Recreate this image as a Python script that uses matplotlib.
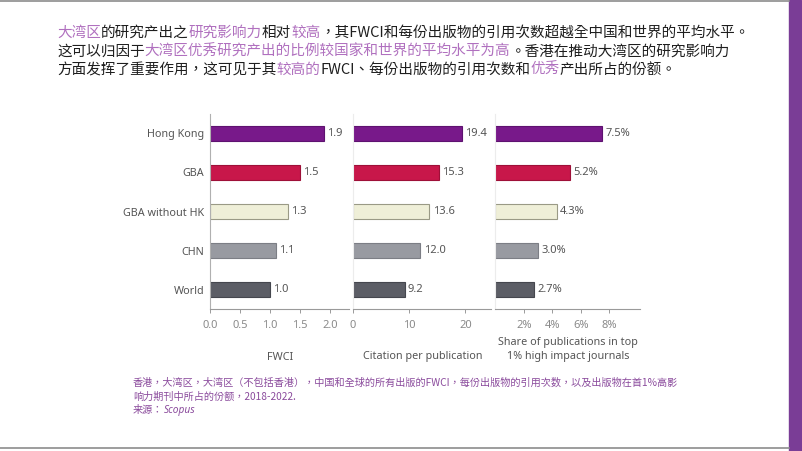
import matplotlib
matplotlib.use("Agg")
import matplotlib.pyplot as plt
from matplotlib.lines import Line2D
from matplotlib.patches import Rectangle

# ---------------- data ----------------
categories = ["Hong Kong", "GBA", "GBA without HK", "CHN", "World"]
fwci = [1.9, 1.5, 1.3, 1.1, 1.0]
citations = [19.4, 15.3, 13.6, 12.0, 9.2]
share_top1 = [7.5, 5.2, 4.3, 3.0, 2.7]

fwci_ticks = [0.0, 0.5, 1.0, 1.5, 2.0]
fwci_ticklabels = ["0.0", "0.5", "1.0", "1.5", "2.0"]
cit_ticks = [0, 10, 20]
cit_ticklabels = ["0", "10", "20"]
share_ticks = [2, 4, 6, 8]
share_ticklabels = ["2%", "4%", "6%", "8%"]

axis_titles = ["FWCI", "Citation per publication",
               "Share of publications in top\n1% high impact journals"]

bar_colors = ["#78198a", "#c8174a", "#efefd8", "#989aa1", "#5c5e66"]
edge_colors = ["#5e1270", "#9e1038", "#9a9a86", "#7c7e85", "#45474e"]

P = "#b070bf"   # highlight purple
K = "#1e1e1e"   # normal text
title_lines = [
    [("大湾区", P), ("的研究产出之", K), ("研究影响力", P), ("相对", K), ("较高", P),
     ("，其FWCI和每份出版物的引用次数超越全中国和世界的平均水平。", K)],
    [("这可以归因于", K), ("大湾区优秀研究产出的比例较国家和世界的平均水平为高", P),
     ("。香港在推动大湾区的研究影响力", K)],
    [("方面发挥了重要作用，这可见于其", K), ("较高的", P), ("FWCI、每份出版物的引用次数和", K),
     ("优秀", P), ("产出所占的份额。", K)],
]
footnote_lines = [
    "香港，大湾区，大湾区（不包括香港），中国和全球的所有出版的FWCI，每份出版物的引用次数，以及出版物在首1%高影",
    "响力期刊中所占的份额，2018-2022.",
]
source_label = "来源："
source_name = "Scopus"

# ---------------- figure ----------------
W, H = 802, 451
fig = plt.figure(figsize=(W / 100, H / 100), dpi=100)
fig.patch.set_facecolor("white")
CJK = ["Noto Sans CJK TC", "DejaVu Sans"]
LAT = ["Noto Sans", "DejaVu Sans"]
renderer = fig.canvas.get_renderer()


def px_axes(left, top, right, bottom):
    return fig.add_axes([left / W, 1 - bottom / H, (right - left) / W, (bottom - top) / H])


top_y, bot_y = 114, 309
panels = [
    (210.0, 349.0, 2.317, fwci, fwci_ticks, fwci_ticklabels, "{:.1f}"),
    (352.7, 491.0, 24.56, citations, cit_ticks, cit_ticklabels, "{:.1f}"),
    (495.3, 640.0, 10.14, share_top1, share_ticks, share_ticklabels, "{:.1f}%"),
]
ypos = list(range(len(categories)))
for i, (l, r, xmax, vals, ticks, tlabels, fmt) in enumerate(panels):
    ax = px_axes(l, top_y, r, bot_y)
    ax.barh(ypos, vals, height=0.37, color=bar_colors, edgecolor=edge_colors, linewidth=0.8)
    ax.set_xlim(0, xmax)
    ax.set_ylim(len(categories) - 0.5, -0.5)
    for y, v in zip(ypos, vals):
        ax.annotate(fmt.format(v), (v, y), xytext=(2.5, 0), textcoords="offset points",
                    va="center", ha="left", fontsize=8, color="#555555", family=LAT)
    for s in ["top", "right"]:
        ax.spines[s].set_visible(False)
    ax.spines["bottom"].set_color("#9a9a9a")
    ax.spines["bottom"].set_linewidth(0.8)
    ax.spines["left"].set_color("#b0b0b0" if i == 0 else "#ececec")
    ax.spines["left"].set_linewidth(0.8)
    ax.set_xticks(ticks)
    ax.set_xticklabels(tlabels)
    ax.tick_params(axis="x", length=3, width=0.7, color="#9a9a9a", labelcolor="#8a8a8a",
                   labelsize=8, pad=5)
    for t in ax.get_xticklabels():
        t.set_family(LAT)
    if i == 0:
        ax.set_yticks(ypos)
        ax.set_yticklabels(categories)
        ax.tick_params(axis="y", length=0, pad=4, labelcolor="#555555", labelsize=7.8)
        for t in ax.get_yticklabels():
            t.set_family(LAT)
    else:
        ax.set_yticks([])
    ax.patch.set_alpha(0)

# axis titles
fig.text(280 / W, 1 - 357 / H, axis_titles[0], ha="center", va="center",
         fontsize=7.8, color="#555555", family=LAT)
fig.text(423 / W, 1 - 357 / H, axis_titles[1], ha="center", va="center",
         fontsize=7.8, color="#555555", family=LAT)
fig.text(568 / W, 1 - 349.5 / H, axis_titles[2], ha="center", va="center",
         fontsize=7.8, color="#555555", family=LAT, linespacing=1.35)

# title with coloured segments
for line, yc in zip(title_lines, [33, 52, 70]):
    x = 57
    for s, c in line:
        t = fig.text(x / W, 1 - yc / H, s, ha="left", va="center", fontsize=10.5,
                     color=c, family=CJK)
        x += t.get_window_extent(renderer).width

# footnote
FC = "#8a4a9c"
FS = 7.3
for s, yc in zip(footnote_lines, [383, 396.5]):
    fig.text(133 / W, 1 - yc / H, s, ha="left", va="center", fontsize=FS, color=FC, family=CJK)
t = fig.text(133 / W, 1 - 410 / H, source_label, ha="left", va="center", fontsize=FS,
             color=FC, family=CJK)
x2 = 133 + t.get_window_extent(renderer).width
fig.text(x2 / W, 1 - 410 / H, source_name, ha="left", va="center", fontsize=FS,
         color=FC, family=LAT, style="italic")

# frame lines and right purple band
fig.add_artist(Line2D([0, 789 / W], [1 - 1 / H, 1 - 1 / H], color="#8c8c8c", linewidth=1.2,
                      transform=fig.transFigure))
fig.add_artist(Line2D([0, 789 / W], [1 - 448 / H, 1 - 448 / H], color="#8c8c8c", linewidth=1.2,
                      transform=fig.transFigure))
fig.add_artist(Rectangle((789 / W, 0), 12 / W, 1, color="#7a3d96", transform=fig.transFigure))

fig.savefig("out.png", dpi=100, facecolor="white")
